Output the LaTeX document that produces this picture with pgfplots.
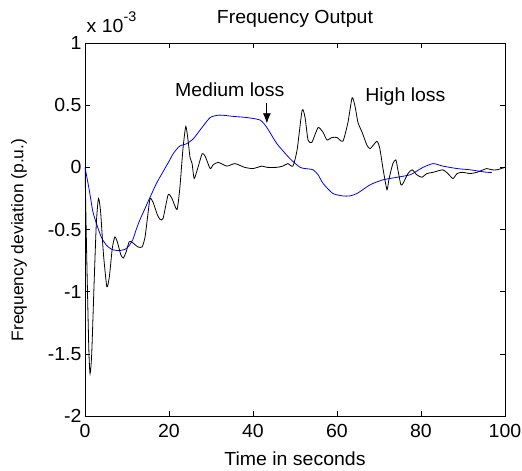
\documentclass[border=0pt]{standalone}
\usepackage{fontspec}
\setmainfont[FakeStretch=1.03]{Liberation Sans}
\usepackage{pgfplots}
\pgfplotsset{compat=1.18}
\usetikzlibrary{calc,arrows.meta}
\newcommand{\fs}{\fontsize{19}{22}\selectfont}
\begin{document}
\begin{tikzpicture}
\begin{axis}[
 scale only axis, width=420bp, height=373bp,
 xmin=0, xmax=100, ymin=-2, ymax=1,
 xtick={0,20,40,60,80,100},
 xticklabels={0,20,40,60,80,100},
 ytick={-2,-1.5,-1,-0.5,0,0.5,1},
 yticklabels={-2,-1.5,-1,-0.5,0,0.5,1},
 tick align=inside, xtick pos=both, ytick pos=both,
 major tick length=5bp,
 tick style={black, line width=0.6bp},
 axis line style={line width=0.8bp},
 ticklabel style={font=\fs},
 xticklabel style={yshift=-4.5bp},
 title={Frequency Output},
 title style={font=\fs, at={(0.5,1)}, anchor=base, yshift=14bp},
 xlabel={Time in seconds},
 xlabel style={font=\fs, at={(0.5,0)}, anchor=base, yshift=-49bp},
]
\addplot[blue, line width=0.8bp, smooth, tension=0.4] coordinates {
(0,0) (1.0,-0.18) (1.9,-0.36) (3.0,-0.48) (4.0,-0.57) (5.2,-0.63) (6.4,-0.66)
(8.0,-0.67) (9.5,-0.66) (10.5,-0.63) (11.4,-0.58) (12.2,-0.5) (13.1,-0.42)
(14.3,-0.33) (15.5,-0.24) (17.0,-0.13) (18.5,-0.04) (20.2,0.06) (21,0.11)
(22.5,0.17) (24.2,0.19) (25.8,0.23) (27.4,0.30) (29.8,0.40) (32.1,0.42)
(35.2,0.41) (38.6,0.40) (41.7,0.38) (43.3,0.32) (45.7,0.19) (48.8,0.07)
(51.2,0.0) (52.5,-0.01) (54.3,-0.02) (55.5,-0.06) (56.7,-0.13) (59.0,-0.21)
(61.4,-0.23) (63,-0.23) (64.8,-0.21) (67.9,-0.14) (71.0,-0.10) (74.3,-0.08)
(77.4,-0.06) (79,-0.03) (80.5,0.0) (82.9,0.03) (85.2,0.01) (88.6,-0.01)
(91.7,-0.02) (95.7,-0.04) (96.9,-0.04)
};
\addplot[black, line width=0.8bp, smooth, tension=0.35] coordinates {
(0,0) (0.4,-0.7) (0.9,-1.45) (1.2,-1.66) (1.6,-1.5) (2.2,-0.9) (2.7,-0.45)
(3.2,-0.25) (3.7,-0.35) (4.4,-0.7) (5.2,-0.96) (5.8,-0.88) (6.5,-0.65)
(7.1,-0.56) (7.7,-0.6) (8.5,-0.7) (9.1,-0.73) (9.8,-0.68) (10.5,-0.6)
(11.1,-0.6) (12.6,-0.64) (13.6,-0.64) (14.3,-0.56) (15.0,-0.37) (15.5,-0.25)
(16.2,-0.28) (17.2,-0.38) (17.9,-0.42) (18.6,-0.41) (19.8,-0.22) (20.7,-0.25)
(21.9,-0.34) (22.6,-0.16) (23.3,0.14) (24.0,0.33) (24.6,0.2) (25.0,0.08)
(25.5,0.03) (26.0,-0.09) (26.9,0.0) (27.9,0.11) (28.6,0.09) (29.8,-0.01)
(30.5,0.02) (31.7,0.04) (33.8,0.01) (35.7,0.03) (38,0.0) (40.0,-0.01)
(42.1,0.01) (43.3,0.0) (45.7,0.0) (47.1,0.01) (48.3,0.03) (49.5,0.01)
(50.5,0.14) (51.7,0.46) (52.4,0.40) (53.1,0.22) (54.0,0.2) (55.5,0.32)
(56.7,0.28) (57.6,0.22) (58.8,0.24) (60.0,0.24) (61.4,0.21) (62.6,0.36)
(63.6,0.56) (64.3,0.49) (65.0,0.36) (66.0,0.28) (67.1,0.18) (67.9,0.15)
(69.5,0.21) (70.2,0.15) (71.0,-0.02) (71.9,-0.18) (72.4,-0.09) (73.3,0.03)
(74.0,0.06) (74.5,-0.02) (75.2,-0.14) (75.7,-0.13) (76.9,-0.05) (77.9,-0.02)
(79.0,-0.06) (80.2,-0.08) (81.4,-0.05) (82.9,-0.04) (85.2,-0.02) (86.4,-0.05)
(87.6,-0.09) (88.6,-0.05) (89.8,-0.04) (91.7,-0.05) (93.3,-0.04) (94.8,-0.02)
(95.7,-0.01) (96.9,-0.02) (98.1,-0.02) (100,0)
};
\draw[black, line width=0.8bp, -{Latex[length=10bp,width=8bp]}] (axis cs:43.3,0.52) -- (axis cs:43.3,0.354);
\node[font=\fs, anchor=base west, inner sep=0pt] at (axis cs:21.4,0.568) {Medium loss};
\node[font=\fs, anchor=base west, inner sep=0pt] at (axis cs:66.7,0.528) {High loss};
\coordinate (ll) at (rel axis cs:0,0);
\coordinate (ur) at (rel axis cs:1,1);
\coordinate (ul) at (rel axis cs:0,1);
\end{axis}
\node[font=\fs, anchor=base west, inner sep=0pt] at ($(ul)+(1.5bp,10bp)$) {x 10\raisebox{11.5bp}{\fontsize{14}{14}\selectfont -3}};
\node[font=\fontsize{17}{20}\selectfont, rotate=90, anchor=center] at ($(ll)+(-66bp,176bp)$) {Frequency deviation (p.u.)};
\pgfresetboundingbox
\useasboundingbox ($(ll)+(-85bp,-55bp)$) rectangle ($(ur)+(17bp,43bp)$);
\end{tikzpicture}
\end{document}
